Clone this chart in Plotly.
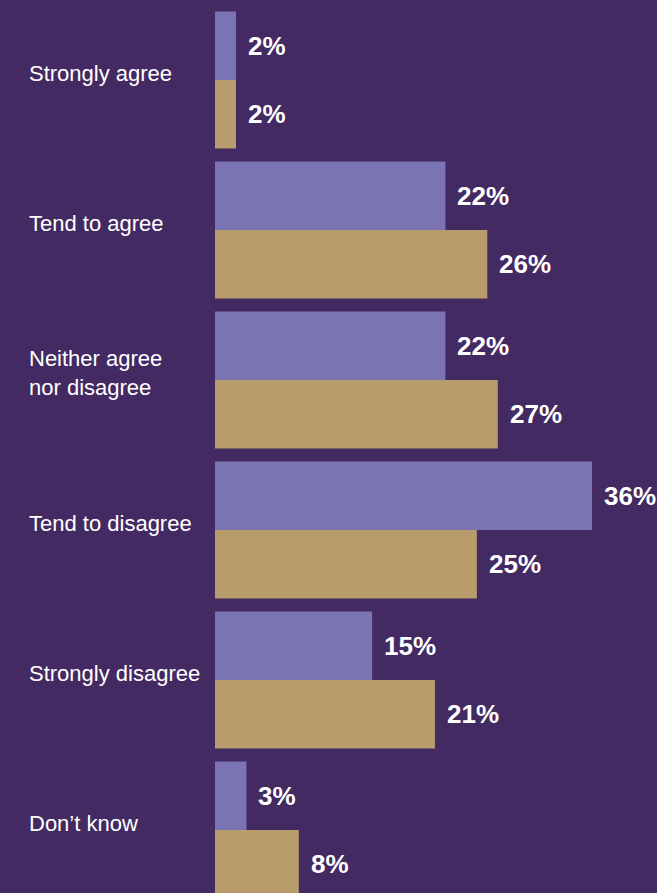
import plotly.graph_objects as go

# Survey responses, two groups per answer
categories = [
    "Strongly agree",
    "Tend to agree",
    "Neither agree<br>nor disagree",
    "Tend to disagree",
    "Strongly disagree",
    "Don\u2019t know",
]
series_a = [2, 22, 22, 36, 15, 3]
series_b = [2, 26, 27, 25, 21, 8]

BG = "#432a62"
COL_A = "#7b74b4"
COL_B = "#b99c6c"
FONT = "Liberation Sans, Arial, sans-serif"

positions = list(range(len(categories)))

fig = go.Figure()
fig.add_trace(go.Bar(y=positions, x=series_a, orientation="h",
                     marker=dict(color=COL_A, line=dict(width=0)),
                     hoverinfo="skip"))
fig.add_trace(go.Bar(y=positions, x=series_b, orientation="h",
                     marker=dict(color=COL_B, line=dict(width=0)),
                     hoverinfo="skip"))

# value labels just past the end of each bar
for i in positions:
    for vals, shift in ((series_a, 34), (series_b, -34)):
        fig.add_annotation(x=vals[i], y=i, xref="x", yref="y",
                           text=f"<b>{vals[i]}%</b>", showarrow=False,
                           xanchor="left", yanchor="middle",
                           xshift=10, yshift=shift,
                           font=dict(family=FONT, size=26, color="white"))

# category labels in the left margin
for i, name in enumerate(categories):
    fig.add_annotation(x=-0.425, y=i, xref="paper", yref="y",
                       text=name, showarrow=False,
                       xanchor="left", yanchor="middle", align="left",
                       yshift=7,
                       font=dict(family=FONT, size=22, color="white"))

fig.update_layout(
    width=657, height=893,
    margin=dict(l=215, r=0, t=0, b=0),
    paper_bgcolor=BG, plot_bgcolor=BG,
    barmode="group", bargap=0.087, bargroupgap=0,
    showlegend=False,
    xaxis=dict(range=[0, 42.2], visible=False, fixedrange=True),
    yaxis=dict(range=[5.42, -0.5333], visible=False, fixedrange=True),
)

fig.write_html("out.html")
